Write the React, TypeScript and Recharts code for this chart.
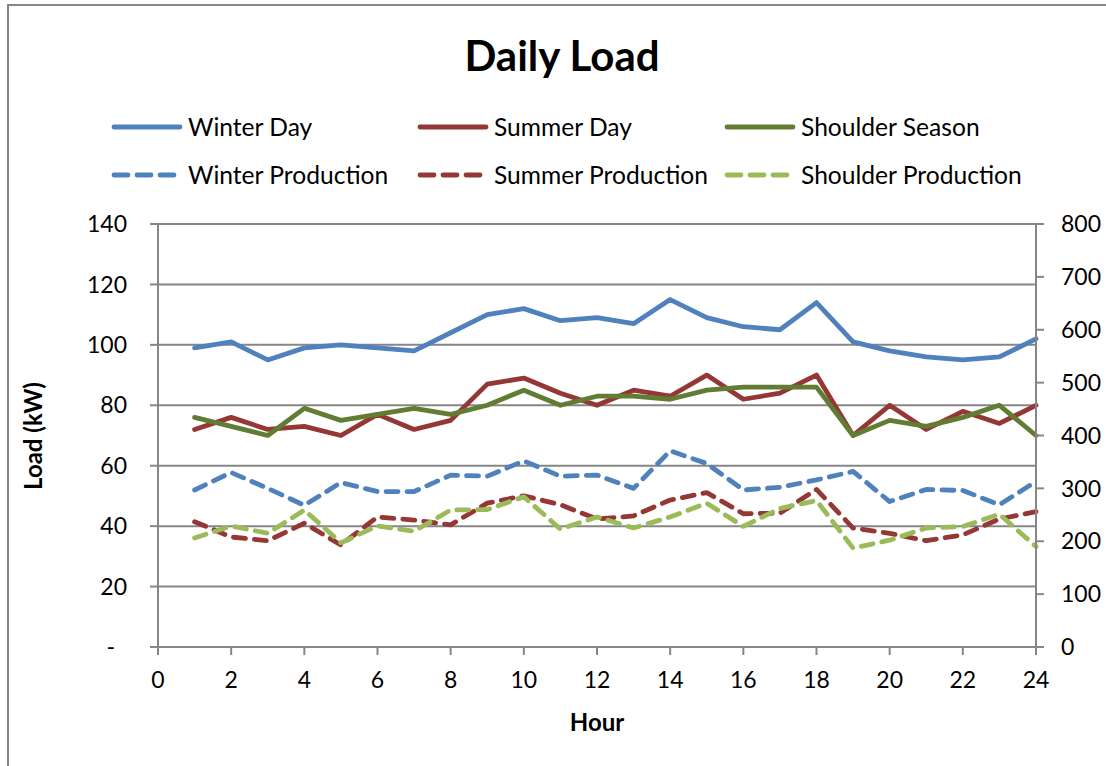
import React from "react";
import { LineChart, Line, XAxis, YAxis, CartesianGrid } from "recharts";

const hours = [1, 2, 3, 4, 5, 6, 7, 8, 9, 10, 11, 12, 13, 14, 15, 16, 17, 18, 19, 20, 21, 22, 23, 24];
const winterDay = [99, 101, 95, 99, 100, 99, 98, 104, 110, 112, 108, 109, 107, 115, 109, 106, 105, 114, 101, 98, 96, 95, 96, 102];
const summerDay = [72, 76, 72, 73, 70, 77, 72, 75, 87, 89, 84, 80, 85, 83, 90, 82, 84, 90, 70, 80, 72, 78, 74, 80];
const shoulderSeason = [76, 73, 70, 79, 75, 77, 79, 77, 80, 85, 80, 83, 83, 82, 85, 86, 86, 86, 70, 75, 73, 76, 80, 70];
const winterProduction = [297, 330, 300, 268, 311, 294, 294, 325, 323, 352, 323, 325, 300, 371, 347, 297, 302, 316, 332, 275, 298, 296, 269, 313];
const summerProduction = [237, 208, 201, 234, 193, 246, 240, 231, 272, 286, 269, 242, 248, 278, 292, 252, 253, 298, 225, 215, 201, 212, 242, 256];
const shoulderProduction = [206, 229, 215, 259, 197, 229, 219, 259, 260, 284, 223, 246, 225, 246, 272, 228, 262, 277, 187, 202, 225, 228, 251, 190];

const xTicks = [0, 2, 4, 6, 8, 10, 12, 14, 16, 18, 20, 22, 24];
const leftTicks = [0, 20, 40, 60, 80, 100, 120, 140];
const rightTicks = [0, 100, 200, 300, 400, 500, 600, 700, 800];

const data = hours.map((h, i) => ({
  hour: h,
  winterDay: winterDay[i],
  summerDay: summerDay[i],
  shoulderSeason: shoulderSeason[i],
  winterProduction: winterProduction[i],
  summerProduction: summerProduction[i],
  shoulderProduction: shoulderProduction[i],
}));

const BLUE = "#4F81BD";
const RED = "#953735";
const OLIVE = "#617D33";
const LGREEN = "#9BBB59";
const AXIS = "#868686";
const FONT = "Lato, 'Open Sans', sans-serif";
const DASH = "12 9";

const series = [
  { key: "winterDay", name: "Winter Day", color: BLUE, dashed: false, axis: "left" },
  { key: "summerDay", name: "Summer Day", color: RED, dashed: false, axis: "left" },
  { key: "shoulderSeason", name: "Shoulder Season", color: OLIVE, dashed: false, axis: "left" },
  { key: "winterProduction", name: "Winter Production", color: BLUE, dashed: true, axis: "right" },
  { key: "summerProduction", name: "Summer Production", color: RED, dashed: true, axis: "right" },
  { key: "shoulderProduction", name: "Shoulder Production", color: LGREEN, dashed: true, axis: "right" },
];

const legendX = [112, 418, 725];
const legendY = [127, 175];

const LeftTick = (props: any) => {
  const { x, y, payload } = props;
  const isZero = payload.value === 0;
  return (
    <text x={isZero ? x - 12 : x} y={y} dy="0.355em" textAnchor="end" fontSize={23} fill="#000" fontFamily={FONT}>
      {isZero ? "-" : payload.value}
    </text>
  );
};

export default function App() {
  return (
    <div style={{ position: "absolute", left: 0, top: 0, width: 1106, height: 766, background: "#fff", fontFamily: FONT }}>
      <div
        style={{
          position: "absolute",
          left: 7,
          top: 4,
          width: 1106,
          height: 770,
          borderLeft: `2px solid ${AXIS}`,
          borderTop: `2px solid ${AXIS}`,
        }}
      />
      <div
        style={{
          position: "absolute",
          left: 362,
          width: 400,
          top: 29,
          textAlign: "center",
          fontSize: 42,
          fontWeight: 700,
          lineHeight: "52px",
          color: "#000",
        }}
      >
        Daily Load
      </div>
      <svg style={{ position: "absolute", left: 0, top: 0 }} width={1106} height={220}>
        {series.map((s, i) => {
          const cx = legendX[i % 3];
          const cy = legendY[Math.floor(i / 3)];
          return (
            <g key={s.key}>
              <line
                x1={cx + 2}
                x2={cx + 68}
                y1={cy}
                y2={cy}
                stroke={s.color}
                strokeWidth={4.8}
                strokeLinecap="round"
                strokeDasharray={s.dashed ? "14 9" : undefined}
              />
              <text x={cx + 76} y={cy} dy="0.36em" fontSize={24.6} fill="#000" fontFamily={FONT}>
                {s.name}
              </text>
            </g>
          );
        })}
      </svg>
      <div style={{ position: "absolute", left: 0, top: 0 }}>
        <LineChart
          width={1106}
          height={766}
          data={data}
          margin={{ top: 224, right: 0, bottom: 79, left: 0 }}
          style={{ fontFamily: FONT }}
        >
          <CartesianGrid yAxisId="left" vertical={false} stroke={AXIS} strokeWidth={2} />
          <XAxis
            dataKey="hour"
            type="number"
            domain={[0, 24]}
            ticks={xTicks}
            height={40}
            stroke={AXIS}
            strokeWidth={2}
            tickSize={8}
            tickMargin={17}
            tick={{ fontSize: 23, fill: "#000", fontFamily: FONT }}
            tickLine={{ stroke: AXIS, strokeWidth: 2 }}
          />
          <YAxis
            yAxisId="left"
            orientation="left"
            domain={[0, 140]}
            ticks={leftTicks}
            width={158}
            stroke={AXIS}
            strokeWidth={2}
            tickSize={8}
            tickMargin={23}
            tick={<LeftTick />}
            tickLine={{ stroke: AXIS, strokeWidth: 2 }}
          />
          <YAxis
            yAxisId="right"
            orientation="right"
            domain={[0, 800]}
            ticks={rightTicks}
            width={70}
            stroke={AXIS}
            strokeWidth={2}
            tickSize={8}
            tickMargin={17}
            tick={{ fontSize: 23, fill: "#000", fontFamily: FONT }}
            tickLine={{ stroke: AXIS, strokeWidth: 2 }}
          />
          {series.map((s) => (
            <Line
              key={s.key}
              yAxisId={s.axis}
              type="linear"
              dataKey={s.key}
              name={s.name}
              stroke={s.color}
              strokeWidth={4.8}
              strokeDasharray={s.dashed ? DASH : undefined}
              strokeLinecap="round"
              strokeLinejoin="round"
              dot={false}
              activeDot={false}
              isAnimationActive={false}
            />
          ))}
        </LineChart>
      </div>
      <div
        style={{
          position: "absolute",
          left: 497,
          width: 200,
          top: 708,
          textAlign: "center",
          fontSize: 24,
          fontWeight: 700,
          lineHeight: "28px",
          color: "#000",
        }}
      >
        Hour
      </div>
      <div
        style={{
          position: "absolute",
          left: 32,
          top: 436,
          transform: "translate(-50%, -50%) rotate(-90deg)",
          fontSize: 24,
          fontWeight: 700,
          whiteSpace: "nowrap",
          color: "#000",
        }}
      >
        Load (kW)
      </div>
    </div>
  );
}
